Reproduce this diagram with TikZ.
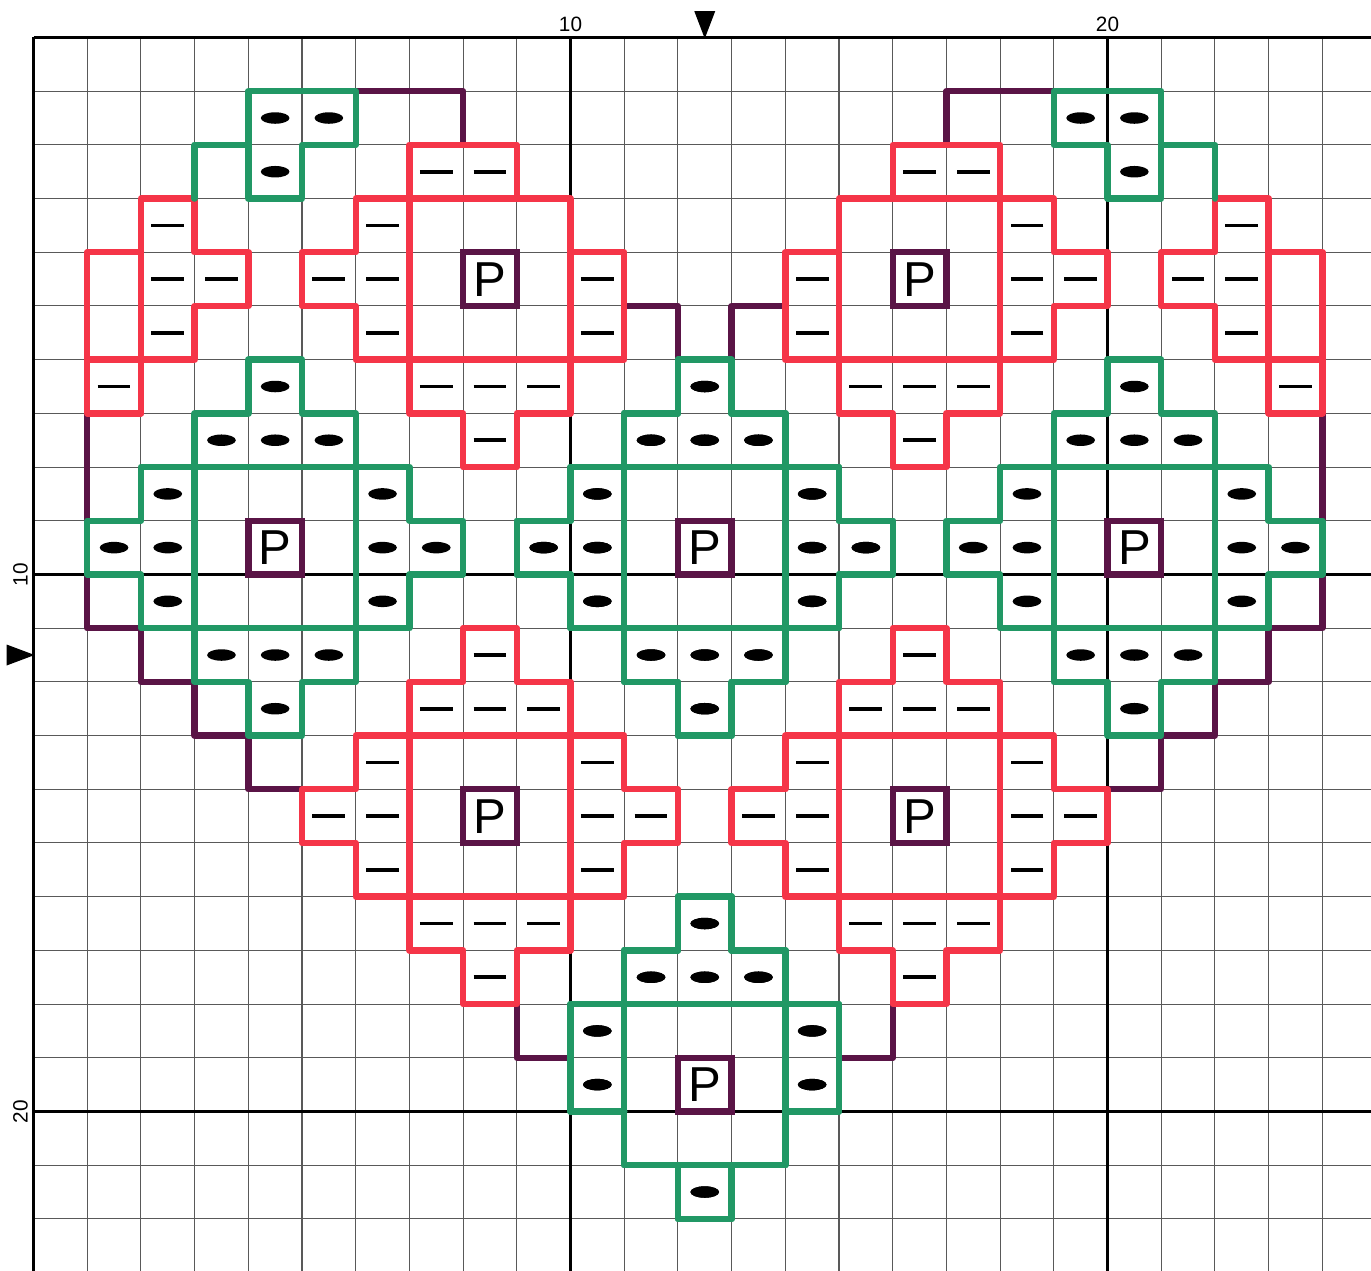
\documentclass[tikz,border=0pt]{standalone}
\usepackage{fontspec}
\setmainfont{Liberation Sans}
\definecolor{gr}{RGB}{33,152,101}
\definecolor{rd}{RGB}{245,53,72}
\definecolor{pu}{RGB}{90,20,70}
\tikzset{
 stitch/.style={line width=3.4pt, line join=round, line cap=round},
 gline/.style={stitch, draw=gr},
 rline/.style={stitch, draw=rd},
 pline/.style={stitch, draw=pu},
 minor/.style={line width=0.55pt, draw=black!65},
 major/.style={line width=1.6pt, draw=black},
 dashsym/.style={line width=2pt, draw=black},
 pbox/.style={draw=pu, line width=3.4pt, minimum size=1cm, inner sep=0pt, font=\fontsize{26}{26}\selectfont},
 lbl/.style={font=\fontsize{11}{11}\selectfont, inner sep=0pt},
 marker/.style={fill=black}
}
\newcommand\gdot[2]{\fill (#1+0.5,#2+0.5) ellipse [x radius=0.267cm, y radius=0.107cm];}
\newcommand\rdash[2]{\draw[dashsym] (#1+0.195,#2+0.5) -- (#1+0.805,#2+0.5);}
\newcommand\ringsyms[3]{%
 \foreach \dx/\dy in {0/-3,-1/-2,0/-2,1/-2,-2/-1,2/-1,-3/0,-2/0,2/0,3/0,-2/1,2/1,-1/2,0/2,1/2,0/3}{#1{#2+\dx}{#3+\dy}}}
\newcommand\fullring[3]{%
 \draw[#1] (#2,#3-3) -- ++(1,0) -- ++(0,1) -- ++(1,0) -- ++(0,1) -- ++(1,0) -- ++(0,1) -- ++(1,0) -- ++(0,1) -- ++(-1,0) -- ++(0,1) -- ++(-1,0) -- ++(0,1) -- ++(-1,0) -- ++(0,1) -- ++(-1,0) -- ++(0,-1) -- ++(-1,0) -- ++(0,-1) -- ++(-1,0) -- ++(0,-1) -- ++(-1,0) -- ++(0,-1) -- ++(1,0) -- ++(0,-1) -- ++(1,0) -- ++(0,-1) -- ++(1,0) -- cycle;
 \draw[#1] (#2-1,#3-1) rectangle ++(3,3);}
\newcommand\halfheart{%
 % heart outline
 \draw[pline] (6,1) -- (8,1) -- (8,2);
 \draw[pline] (11,5) -- (12,5) -- (12,6);
 \draw[pline] (1,7) -- (1,11) -- (2,11) -- (2,12) -- (3,12) -- (3,13) -- (4,13) -- (4,14) -- (5,14);
 \draw[pline] (9,18) -- (9,19) -- (10,19);
 % red motifs
 \draw[rline] (2,7) -- (2,3) -- (3,3) -- (3,4) -- (4,4) -- (4,5) -- (3,5) -- (3,6) -- (1,6);
 \draw[rline] (2,4) -- (1,4) -- (1,7) -- (2,7);
 \draw[rline] (9,3) -- (9,2) -- (7,2) -- (7,7) -- (8,7) -- (8,8) -- (9,8) -- (9,7) -- (10,7) -- (10,3) -- (6,3) -- (6,4) -- (5,4) -- (5,5) -- (6,5) -- (6,6) -- (11,6) -- (11,4) -- (10,4);
 \fullring{rline}{8}{14}
 % green motifs
 \draw[gline] (4,3) -- (4,1) -- (6,1) -- (6,2) -- (5,2) -- (5,3) -- cycle;
 \draw[gline] (3,3) -- (3,2) -- (4,2);
 \fullring{gline}{4}{9}
 \fullring{gline}{12}{9}
 \draw[gline] (14,20) -- (15,20) -- (15,18) -- (10,18) -- (10,20) -- (11,20);
 \draw[gline] (11,21) -- (11,17) -- (12,17) -- (12,16) -- (13,16) -- (13,17) -- (14,17) -- (14,21) -- cycle;
 \draw[gline] (12,21) -- (12,22) -- (13,22) -- (13,21);
 % symbols
 \foreach \c/\r in {4/1,5/1,4/2,12/16,11/17,12/17,13/17,10/18,14/18,10/19,14/19,12/21}{\gdot{\c}{\r}}
 \ringsyms{\gdot}{4}{9}
 \ringsyms{\gdot}{12}{9}
 \foreach \c/\r in {2/3,2/4,3/4,2/5,1/6,7/2,8/2,6/3,5/4,6/4,6/5,10/4,10/5,7/6,8/6,9/6,8/7}{\rdash{\c}{\r}}
 \ringsyms{\rdash}{8}{14}
}
\begin{document}
\begin{tikzpicture}[x=1cm,y=-1cm]
\useasboundingbox (-0.624,-0.698) rectangle (24.907,22.97);
\clip (-0.624,-0.698) rectangle (24.907,22.97);
% grid
\foreach \i in {0,...,25} \draw[minor] (\i,0) -- (\i,23.5);
\foreach \j in {0,...,23} \draw[minor] (0,\j) -- (25.5,\j);
\foreach \i in {0,10,20} \draw[major] (\i,0) -- (\i,23.5);
\foreach \j in {0,10,20} \draw[major] (0,\j) -- (25.5,\j);
% pattern, left half and its mirror image
\halfheart
\begin{scope}[xshift=25cm, xscale=-1]
\halfheart
\end{scope}
% P cells
\node[pbox] (p1) at (8.5,4.5) {P};
\node[pbox] (p2) at (16.5,4.5) {P};
\node[pbox] (p3) at (4.5,9.5) {P};
\node[pbox] (p4) at (12.5,9.5) {P};
\node[pbox] (p5) at (20.5,9.5) {P};
\node[pbox] (p6) at (8.5,14.5) {P};
\node[pbox] (p7) at (16.5,14.5) {P};
\node[pbox] (p8) at (12.5,19.5) {P};
% center markers
\fill[marker] (12.5,0.02) -- (12.305,-0.49) -- (12.695,-0.49) -- cycle;
\fill[marker] (0.02,11.5) -- (-0.5,11.305) -- (-0.5,11.695) -- cycle;
% labels
\node[lbl, anchor=south] (t10) at (10,-0.1) {10};
\node[lbl, anchor=south] (t20) at (20,-0.1) {20};
\node[lbl, anchor=south, rotate=90] (l10) at (-0.1,10) {10};
\node[lbl, anchor=south, rotate=90] (l20) at (-0.1,20) {20};
\end{tikzpicture}
\end{document}
